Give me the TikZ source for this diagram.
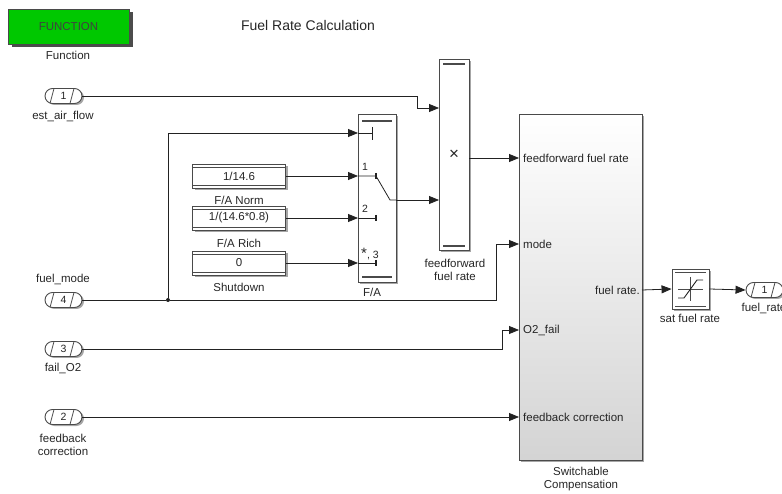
\documentclass[tikz,border=0pt]{standalone}
\usepackage{fontspec}
\setmainfont{Liberation Sans}
\usetikzlibrary{arrows.meta}
\definecolor{fcngreen}{HTML}{00C800}
\definecolor{wire}{HTML}{222222}
\definecolor{frame}{HTML}{4A4A4A}

\begin{document}
\begin{tikzpicture}[x=1pt, y=-1pt,
  every node/.style={font=\fontsize{11.5}{13}\selectfont, text=black!85},
  lbl/.style={inner sep=0pt},
  block/.style={draw=frame, fill=white, inner sep=0pt, line width=0.9pt},
  inport/.style={block, rounded corners=7.5pt, minimum width=37pt, minimum height=15pt,
                 font=\fontsize{10.5}{11}\selectfont,
                 path picture={
                   \draw[frame, line width=0.8pt] ([xshift=5pt]path picture bounding box.south west) -- ++(4pt,15pt);
                   \draw[frame, line width=0.8pt] ([xshift=-12pt]path picture bounding box.south east) -- ++(4pt,15pt);}},
  const/.style={block, minimum width=93pt, minimum height=24pt,
                path picture={
                  \draw[frame] ([yshift=-3pt]path picture bounding box.north west) -- ([yshift=-3pt]path picture bounding box.north east);
                  \draw[frame] ([yshift=3pt]path picture bounding box.south west) -- ([yshift=3pt]path picture bounding box.south east);}},
  sig/.style={draw=wire, line width=0.8pt, -{Triangle[length=10pt,width=8pt]}},
  wireline/.style={draw=wire, line width=0.8pt},
  bar/.style={draw=frame, line width=1.4pt},
  shadowfill/.style={fill=black!35},
]
\useasboundingbox (0,0) rectangle (782,494);

% shadows
\fill[black!70] (11.5,12.5) rectangle (132.5,47.5);
\fill[shadowfill] (194.5,166) rectangle (287.5,190);
\fill[shadowfill] (194.5,208) rectangle (287.5,232);
\fill[shadowfill] (194.5,253) rectangle (287.5,277);
\fill[shadowfill] (360,116) rectangle (398,284);
\fill[shadowfill] (441,61) rectangle (471,252);
\fill[shadowfill] (521,116) rectangle (644,462);
\fill[shadowfill] (674,271) rectangle (711,311);
\foreach \y in {96,300,349,417}
  \fill[shadowfill, rounded corners=7.5pt] (47,\y-6) rectangle (84,\y+9);
\fill[shadowfill, rounded corners=7.5pt] (748,284) rectangle (785,299);

% function block and title
\node[draw=frame, fill=fcngreen, inner sep=0pt, line width=0.9pt,
      minimum width=121pt, minimum height=35pt, text=black!75] (fcn) at (68.5,26.5) {FUNCTION};
\node[lbl] (fcnlbl) at (68,55) {Function};
\node[lbl, font=\fontsize{14}{16}\selectfont] (title) at (308,26) {Fuel Rate Calculation};

% inports
\node[inport] (in1) at (63.5,96) {1};
\node[lbl] (in1lbl) at (63,116) {est\_air\_flow};
\node[inport] (in4) at (63.5,300) {4};
\node[lbl] (in4lbl) at (63,279) {fuel\_mode};
\node[inport] (in3) at (63.5,349) {3};
\node[lbl] (in3lbl) at (63,368) {fail\_O2};
\node[inport] (in2) at (63.5,417) {2};
\node[lbl, align=center] (in2lbl) at (63,445) {feedback\\correction};

% constants
\node[const] (cNorm) at (239,176) {1/14.6};
\node[lbl] (cNormlbl) at (239,200) {F/A Norm};
\node[const] (cRich) at (239,218) {1/(14.6*0.8)};
\node[lbl] (cRichlbl) at (239,243) {F/A Rich};
\node[const] (cShut) at (239,263) {0};
\node[lbl] (cShutlbl) at (239,287) {Shutdown};

% multiport switch
\node[block, minimum width=38pt, minimum height=168pt] (sw) at (377,198) {};
\node[lbl] (swlbl) at (372,292) {F/A};
\draw[bar] (362,121) -- (392,121);
\draw[bar] (362,277) -- (392,277);
\coordinate (swCtl) at (358,133);
\coordinate (swIn1) at (358,176);
\coordinate (swIn2) at (358,218);
\coordinate (swIn3) at (358,263);
\coordinate (swOut) at (396,200);
\draw[wireline] (swCtl) -- (372,133);
\draw[wireline] (372,127) -- (372,140);
\draw[wireline] (swIn1) -- (376,176) -- (390,200) -- (swOut);
\draw[wireline] (swIn2) -- (376,218);
\draw[wireline] (swIn3) -- (376,263);
\foreach \y in {176,218,263} \draw[wire, line width=1.6pt] (376,\y-3) -- (376,\y+3);
\node[lbl, font=\fontsize{10.5}{12}\selectfont] (p1) at (365,167) {1};
\node[lbl, font=\fontsize{10.5}{12}\selectfont] (p2) at (365,209) {2};
\node[lbl, font=\fontsize{10.5}{12}\selectfont] (p3) at (370,254) {{\fontsize{15}{12}\selectfont *}, 3};

% product
\node[block, minimum width=30pt, minimum height=191pt, font=\fontsize{17}{17}\selectfont] (prod) at (454,154.5) {×};
\draw[bar] (443,64) -- (465,64);
\draw[bar] (443,246) -- (465,246);
\node[lbl, align=center] (prodlbl) at (455,270) {feedforward\\fuel rate};
\coordinate (prodIn1) at (439,108);
\coordinate (prodIn2) at (439,200);
\coordinate (prodOut) at (469,158);

% subsystem
\node[block, top color=white, bottom color=black!17, minimum width=123pt, minimum height=346pt] (sub) at (580.5,287) {};
\node[lbl, align=center] (sublbl) at (581,479) {Switchable\\Compensation};
\coordinate (subFF) at (519,158);
\coordinate (subMode) at (519,244);
\coordinate (subO2) at (519,330);
\coordinate (subFB) at (519,417);
\coordinate (subOut) at (642,290);
\node[lbl, anchor=west] (tFF) at (523,158) {feedforward fuel rate};
\node[lbl, anchor=west] (tMode) at (523,244) {mode};
\node[lbl, anchor=west] (tO2) at (523,330) {O2\_fail};
\node[lbl, anchor=west] (tFB) at (523,417) {feedback correction};
\node[lbl, anchor=east] (tOut) at (640,290) {fuel rate.};

% saturation and outport
\node[block, minimum width=37pt, minimum height=40pt] (sat) at (690.5,289) {};
\draw[frame] (675,272) -- (706,272);
\draw[frame] (675,306) -- (706,306);
\draw[frame, thin] (678,289) -- (703,289);
\draw[frame, thin] (690.5,277) -- (690.5,301);
\draw[wire, line width=0.9pt] (678,298) -- (684,298) -- (697,280) -- (703,280);
\node[lbl] (satlbl) at (690,318) {sat fuel rate};
\node[inport] (out1) at (764.5,290) {1};
\node[lbl] (out1lbl) at (764,308) {fuel\_rate};

% signals
\draw[sig] (in1.east) -| (417,108) -- (prodIn1);
\node[circle, fill=wire, inner sep=0pt, minimum size=4pt] (jn) at (168,300) {};
\draw[wireline] (in4.east) -- (jn);
\draw[sig] (jn) |- (swCtl);
\draw[sig] (jn) -- (496,300) |- (subMode);
\draw[sig] (cNorm.east) -- (swIn1);
\draw[sig] (cRich.east) -- (swIn2);
\draw[sig] (cShut.east) -- (swIn3);
\draw[sig] (swOut) -- (prodIn2);
\draw[sig] (prodOut) -- (subFF);
\draw[sig] (in3.east) -| (502,330) -- (subO2);
\draw[sig] (in2.east) -- (subFB);
\draw[sig] (subOut) -- (sat.west);
\draw[sig] (sat.east) -- (out1.west);

\end{tikzpicture}
\end{document}
